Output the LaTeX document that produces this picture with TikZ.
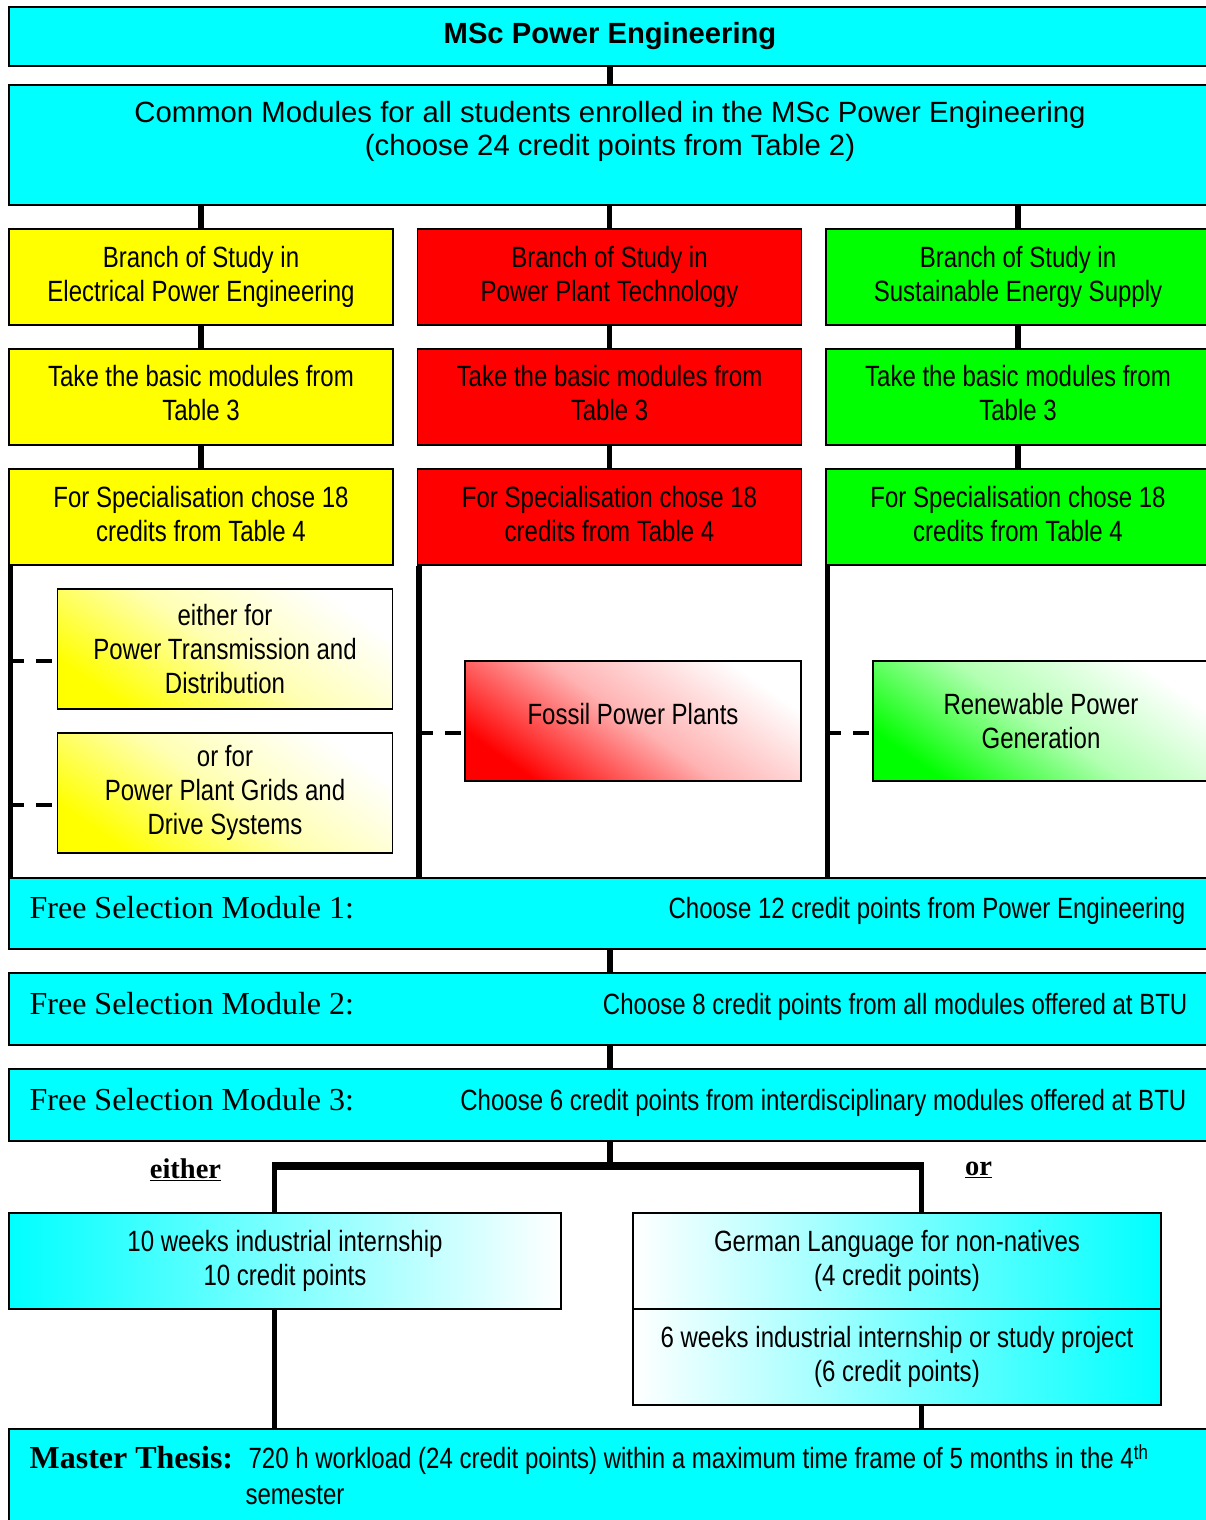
\documentclass[tikz,border=0pt]{standalone}
\usepackage{fontspec}
\setmainfont{Liberation Serif}
\newfontfamily\arialfont{Liberation Sans}
\newfontfamily\narrowfont{Liberation Sans}[FakeStretch=0.82]
\usepackage{tikz}
\usetikzlibrary{positioning}
\definecolor{aqua}{RGB}{0,255,255}
\definecolor{lemon}{RGB}{255,255,0}
\definecolor{signal}{RGB}{255,0,0}
\definecolor{lime}{RGB}{0,255,0}
\tikzset{box/.style={draw=black,line width=1.2pt,inner sep=0pt,align=center,
  font=\narrowfont\fontsize{29.3}{34}\selectfont}}
\tikzset{cyanbox/.style={box,fill=aqua}}
\tikzset{yellowbox/.style={box,fill=lemon,minimum width=384pt,minimum height=96pt}}
\tikzset{redbox/.style={box,fill=signal,minimum width=384pt,minimum height=96pt}}
\tikzset{greenbox/.style={box,fill=lime,minimum width=384pt,minimum height=96pt}}
\tikzset{optbox/.style={box,minimum width=335pt,minimum height=120pt}}
\tikzset{fadebox/.style={optbox,top color=white,bottom color=#1,middle color=#1!30!white,shading angle=-35}}
\tikzset{link/.style={line width=5.5pt}}
\tikzset{dashlink/.style={line width=4pt,dash pattern=on 16pt off 12pt}}
\tikzset{serifbig/.style={font=\fontsize{32}{36}\selectfont,inner sep=0pt}}
\tikzset{narrowtxt/.style={font=\narrowfont\fontsize{29.3}{34}\selectfont,inner sep=0pt}}
\begin{document}
\begin{tikzpicture}[x=1pt,y=-1pt]
\useasboundingbox (0,0) rectangle (1206,1520);
\clip (0,0) rectangle (1206,1520);
% \draw[help lines] (0,0) grid (1206,1520);
\node (title) [cyanbox,minimum width=1202pt,minimum height=59pt,
  font=\arialfont\bfseries\fontsize{29.2}{34}\selectfont] at (610,36.5) {\raisebox{-2.5pt}{MSc Power Engineering}};
\node (common) [cyanbox,minimum width=1202pt,minimum height=120pt,
  font=\arialfont\fontsize{29.3}{33}\selectfont] at (610,145)
  {Common Modules for all students enrolled in the MSc Power Engineering\\(choose 24 credit points from Table 2)\\\mbox{}};
%
\node (ybranch) [yellowbox] at (201,277) {Branch of Study in\\Electrical Power Engineering};
\node (rbranch) [redbox] at (609.5,277) {Branch of Study in\\Power Plant Technology};
\node (gbranch) [greenbox] at (1018,277) {Branch of Study in\\Sustainable Energy Supply};
\node (ybasic) [yellowbox] at (201,397) {Take the basic modules from\\Table 3\\[-26pt]\mbox{}};
\node (rbasic) [redbox] at (609.5,397) {Take the basic modules from\\Table 3\\[-26pt]\mbox{}};
\node (gbasic) [greenbox] at (1018,397) {Take the basic modules from\\Table 3\\[-26pt]\mbox{}};
\node (yspec) [yellowbox] at (201,517) {For Specialisation chose 18\\credits from Table 4\\[-28pt]\mbox{}};
\node (rspec) [redbox] at (609.5,517) {For Specialisation chose 18\\credits from Table 4\\[-28pt]\mbox{}};
\node (gspec) [greenbox] at (1018,517) {For Specialisation chose 18\\credits from Table 4\\[-28pt]\mbox{}};
%
\node (ptd) [fadebox=lemon] at (225,649) {either for\\Power Transmission and\\Distribution};
\node (pgd) [fadebox=lemon] at (225,793) {or for\\Power Plant Grids and\\Drive Systems};
\node (fossil) [fadebox=signal,minimum width=336pt] at (633,721) {Fossil Power Plants\\[-20pt]\mbox{}};
\node (renew) [fadebox=lime,minimum width=336pt] at (1041,721) {Renewable Power\\Generation};
%
\node (fs1) [cyanbox,minimum width=1202pt,minimum height=71pt] at (610,913.5) {};
\node (fs2) [cyanbox,minimum width=1202pt,minimum height=72pt] at (610,1009) {};
\node (fs3) [cyanbox,minimum width=1202pt,minimum height=72pt] at (610,1105) {};
\node (fs1l) [serifbig,anchor=base west] at ([xshift=21pt,yshift=-5pt]fs1.west) {Free Selection Module 1:};
\node (fs2l) [serifbig,anchor=base west] at ([xshift=21pt,yshift=-5.5pt]fs2.west) {Free Selection Module 2:};
\node (fs3l) [serifbig,anchor=base west] at ([xshift=21pt,yshift=-5.5pt]fs3.west) {Free Selection Module 3:};
\node (fs1r) [narrowtxt,anchor=base east] at ([xshift=-26pt,yshift=-5pt]fs1.east) {Choose 12 credit points from Power Engineering};
\node (fs2r) [narrowtxt,anchor=base east] at ([xshift=-24pt,yshift=-5.5pt]fs2.east) {Choose 8 credit points from all modules offered at BTU};
\node (fs3r) [narrowtxt,anchor=base east] at ([xshift=-25pt,yshift=-5.5pt]fs3.east) {Choose 6 credit points from interdisciplinary modules offered at BTU};
%
\node (either) [font=\bfseries\fontsize{28.5}{32}\selectfont,inner sep=0pt] at (185.5,1170) {\underline{either}};
\node (or) [font=\bfseries\fontsize{28.5}{32}\selectfont,inner sep=0pt] at (978.5,1170) {\underline{or}};
\node (intern) [box,minimum width=552pt,minimum height=96pt,left color=aqua,right color=white] at (285,1261)
  {10 weeks industrial internship\\10 credit points};
\node (german) [box,minimum width=528pt,minimum height=96pt,left color=white,right color=aqua] at (897,1261)
  {German Language for non-natives\\(4 credit points)};
\node (project) [box,minimum width=528pt,minimum height=96pt,left color=white,right color=aqua] at (897,1357)
  {6 weeks industrial internship or study project\\(6 credit points)};
%
\node (master) [cyanbox,minimum width=1202pt,minimum height=110pt] at (610,1484) {};
\node (mthesis) [serifbig,font=\bfseries\fontsize{32}{36}\selectfont,anchor=base west] at ([xshift=21pt,yshift=-40pt]master.north west) {Master Thesis:};
\node (mtext) [narrowtxt,anchor=base west] at ([xshift=240pt,yshift=-40pt]master.north west)
  {720 h workload (24 credit points) within a maximum time frame of 5 months in the 4\textsuperscript{th}};
\node (msem) [narrowtxt,anchor=base west] at ([xshift=237pt,yshift=-76pt]master.north west) {semester};
%
% connectors
\path[link] (title) edge (common);
\foreach \col in {y,r,g}{
  \draw[link] (\col branch.north) -- (\col branch.north |- common.south);
  \draw[link] (\col branch.south) -- (\col basic.north);
  \draw[link] (\col basic.south) -- (\col spec.north);
  \draw[link] ([xshift=2pt]\col spec.south west) -- ([xshift=2pt]\col spec.south west |- fs1.north);
}
\draw[dashlink] ([yshift=-12pt]ptd.west -| yspec.west) -- ([yshift=-12pt]ptd.west);
\draw[dashlink] ([yshift=-12pt]pgd.west -| yspec.west) -- ([yshift=-12pt]pgd.west);
\draw[dashlink] ([yshift=-12pt]fossil.west -| rspec.west) -- ([yshift=-12pt]fossil.west);
\draw[dashlink] ([yshift=-12pt]renew.west -| gspec.west) -- ([yshift=-12pt]renew.west);
%
\draw[link] (fs1) -- (fs2);
\draw[link] (fs2) -- (fs3);
\coordinate (lsplit) at (274.5,1165.5);
\coordinate (rsplit) at (921.5,1165.5);
\draw[link] (fs3.south) -- (fs3.south |- lsplit);
\draw[line width=8pt] ([xshift=-2.75pt]lsplit) -- ([xshift=2.75pt]rsplit);
\draw[link] (lsplit) -- (lsplit |- intern.north);
\draw[link] (rsplit) -- (rsplit |- german.north);
\draw[link] (lsplit |- intern.south) -- (lsplit |- master.north);
\draw[link] (rsplit |- project.south) -- (rsplit |- master.north);
\end{tikzpicture}
\end{document}
